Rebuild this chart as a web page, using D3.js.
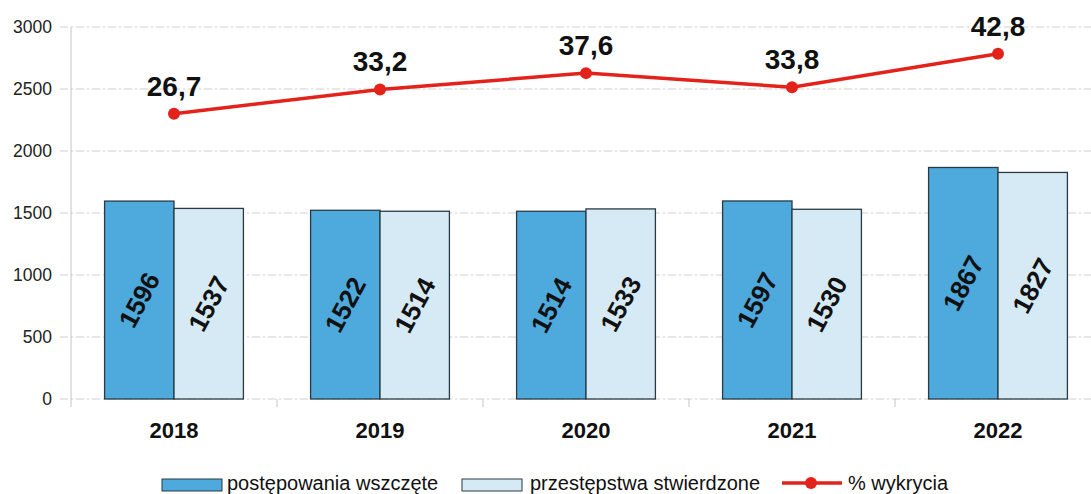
<!DOCTYPE html>
<html><head><meta charset="utf-8">
<script src="https://cdn.jsdelivr.net/npm/d3@7"></script>
<style>body{margin:0;background:#fff}svg{display:block;font-family:"Liberation Sans",Arial,sans-serif}</style>
</head><body>
<svg id="c" width="1091" height="494"></svg>
<script>
const years = ["2018","2019","2020","2021","2022"];
const wszczete = [1596,1522,1514,1597,1867];
const stwierdzone = [1537,1514,1533,1530,1827];
const wykrycie = [26.7,33.2,37.6,33.8,42.8];
const yTicks = [0,500,1000,1500,2000,2500,3000];
const legendLabels = ["postępowania wszczęte","przestępstwa stwierdzone","% wykrycia"];

(function(){
const svg = d3.select("#c");
const pL = 71, pR = 1101, pT = 27, pB = 399;
const x = d3.scaleBand().domain(years).range([pL, pR]);
const y = d3.scaleLinear().domain([0,3000]).range([pB, pT]);
const y2 = d3.scaleLinear().domain([-50,50]).range([pB, pT]);
const barW = x.bandwidth()*0.337;

// gridlines
svg.append("g").selectAll("line").data(yTicks).join("line")
  .attr("x1", 60).attr("x2", 1091).attr("y1", d=>y(d)).attr("y2", d=>y(d))
  .attr("stroke", "#cfcfcf").attr("stroke-width", 1).attr("stroke-dasharray","8,3,2,3");
// y axis line
svg.append("line").attr("x1", pL).attr("x2", pL).attr("y1", pT).attr("y2", pB+8)
  .attr("stroke", "#c4c4c4");
// category ticks
svg.append("g").selectAll("line").data(years.slice(1)).join("line")
  .attr("x1", d=>x(d)).attr("x2", d=>x(d)).attr("y1", pB).attr("y2", pB+8)
  .attr("stroke", "#c4c4c4");
// y labels
svg.append("g").selectAll("text").data(yTicks).join("text")
  .attr("x", 52).attr("y", d=>y(d)).attr("dy","0.35em").attr("text-anchor","end")
  .attr("font-size", 17.5).attr("fill","#222").text(d=>d);

// bars
const series = [{vals: wszczete, fill:"#4ea9dd", off:-1},{vals: stwierdzone, fill:"#d5eaf4", off:0}];
series.forEach(s=>{
  const g = svg.append("g");
  g.selectAll("rect").data(years).join("rect")
    .attr("x", (d)=>x(d)+x.bandwidth()/2 + s.off*barW)
    .attr("y", (d,i)=>y(s.vals[i]))
    .attr("width", barW).attr("height", (d,i)=>pB - y(s.vals[i]))
    .attr("fill", s.fill).attr("stroke","#2a3a44").attr("stroke-width",1.3);
  g.selectAll("text").data(years).join("text")
    .attr("transform",(d,i)=>`translate(${x(d)+x.bandwidth()/2+s.off*barW+barW/2},${(y(s.vals[i])+pB)/2}) rotate(-62)`)
    .attr("text-anchor","middle").attr("dy","0.35em")
    .attr("font-size",26).attr("font-weight","bold").attr("fill","#111")
    .text((d,i)=>s.vals[i]);
});

// year labels
svg.append("g").selectAll("text").data(years).join("text")
  .attr("x", d=>x(d)+x.bandwidth()/2).attr("y", 438).attr("text-anchor","middle")
  .attr("font-size",22).attr("font-weight","bold").attr("fill","#111").text(d=>d);

// line
const cx = d=>x(d)+x.bandwidth()/2;
const line = d3.line().x((d,i)=>cx(years[i])).y(d=>y2(d));
svg.append("path").datum(wykrycie).attr("d", line).attr("fill","none")
  .attr("stroke","#e3231b").attr("stroke-width",3.5);
svg.append("g").selectAll("circle").data(wykrycie).join("circle")
  .attr("cx",(d,i)=>cx(years[i])).attr("cy", d=>y2(d)).attr("r",6).attr("fill","#e3231b");
svg.append("g").selectAll("text").data(wykrycie).join("text")
  .attr("x",(d,i)=>cx(years[i])).attr("y", d=>y2(d)-18).attr("text-anchor","middle")
  .attr("font-size",28).attr("font-weight","bold").attr("fill","#111")
  .text(d=>d.toFixed(1).replace(".",","));

// legend
const lg = svg.append("g").attr("font-size",20).attr("fill","#111");
const ly = 485;
lg.append("rect").attr("x",162).attr("y",ly-6).attr("width",60).attr("height",12).attr("fill","#4ea9dd").attr("stroke","#2a3a44");
lg.append("text").attr("x",227).attr("y",490).text(legendLabels[0]);
lg.append("rect").attr("x",462).attr("y",ly-6).attr("width",60).attr("height",12).attr("fill","#d5eaf4").attr("stroke","#2a3a44");
lg.append("text").attr("x",530).attr("y",490).text(legendLabels[1]);
lg.append("line").attr("x1",782).attr("x2",842).attr("y1",483).attr("y2",483).attr("stroke","#e3231b").attr("stroke-width",3.5);
lg.append("circle").attr("cx",811).attr("cy",483).attr("r",6).attr("fill","#e3231b");
lg.append("text").attr("x",848).attr("y",490).text(legendLabels[2]);
})();
</script>
</body></html>
